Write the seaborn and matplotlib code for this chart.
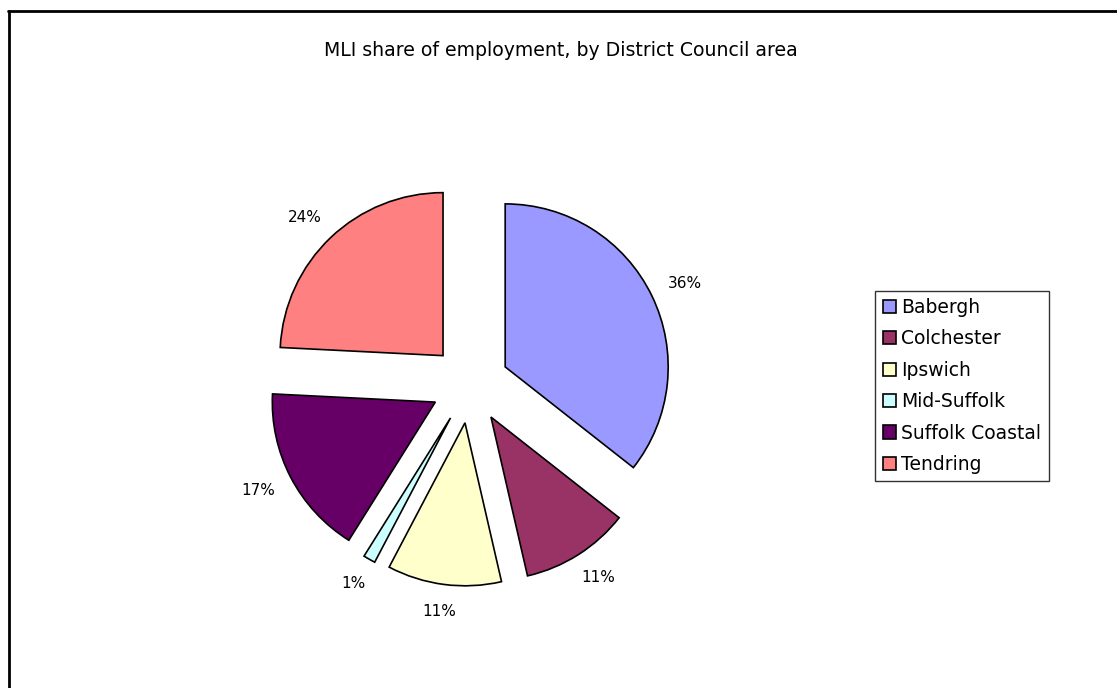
import matplotlib
matplotlib.use("Agg")
import matplotlib.pyplot as plt
import seaborn as sns
import numpy as np
from matplotlib.lines import Line2D

# MLI share of employment by district (percent)
districts = ["Babergh", "Colchester", "Ipswich", "Mid-Suffolk", "Suffolk Coastal", "Tendring"]
shares = [35.6, 10.8, 11.3, 1.2, 16.9, 24.2]
colors = ["#9999FF", "#993366", "#FFFFCC", "#CCFFFF", "#660066", "#FF8080"]
title = "MLI share of employment, by District Council area"

sns.set_theme(style="white")
plt.rcParams["font.family"] = ["DejaVu Sans"]

W, H = 1117, 688
fig = plt.figure(figsize=(W / 100, H / 100), dpi=100)
fig.patch.set_facecolor("white")

# pie axes: radius of 163 px, centred at (470, 384) from the top-left
R = 163.0
cx, cy = 470, 384
side = 460
ax = fig.add_axes([(cx - side / 2) / W, (H - cy - side / 2) / H, side / W, side / H])
wedges, _ = ax.pie(
    shares,
    colors=colors,
    startangle=90,
    counterclock=False,
    explode=[0.24] * len(shares),
    radius=1.0,
    wedgeprops=dict(edgecolor="black", linewidth=1.2),
)
lim = side / 2 / R
ax.set_xlim(-lim, lim)
ax.set_ylim(-lim, lim)
ax.set_aspect("equal")
ax.axis("off")

# percentage labels just outside each exploded wedge
fig.canvas.draw()
renderer = fig.canvas.get_renderer()
gap = 20 / R
for w, v in zip(wedges, shares):
    mid = np.deg2rad((w.theta1 + w.theta2) / 2)
    dx, dy = np.cos(mid), np.sin(mid)
    x0, y0 = w.center
    t = ax.text(0, 0, f"{v:.0f}%", ha="center", va="center", fontsize=11, color="black")
    bb = t.get_window_extent(renderer)
    tw, th = bb.width / R, bb.height / R
    t.set_position((x0 + (1 + gap) * dx + tw / 2 * dx, y0 + (1 + gap) * dy + th / 2 * dy))

fig.text(561 / W, 1 - 50 / H, title, ha="center", va="center", fontsize=13.6, color="black")

leg = fig.legend(
    wedges,
    districts,
    loc="center left",
    bbox_to_anchor=(875 / W, 1 - 386 / H),
    frameon=True,
    fancybox=False,
    edgecolor="black",
    fontsize=13.5,
    handlelength=0.7,
    handleheight=0.7,
    handletextpad=0.3,
    labelspacing=0.66,
    borderpad=0.4,
    borderaxespad=0,
)
leg.get_frame().set_linewidth(1.0)
for txt in leg.get_texts():
    txt.set_color("black")

# chart frame (top and left edges)
fig.add_artist(Line2D([8 / W, 1], [1 - 11 / H, 1 - 11 / H], transform=fig.transFigure, color="black", lw=2))
fig.add_artist(Line2D([9 / W, 9 / W], [0, 1 - 11 / H], transform=fig.transFigure, color="black", lw=2))

fig.savefig("out.png", dpi=100, facecolor="white")
